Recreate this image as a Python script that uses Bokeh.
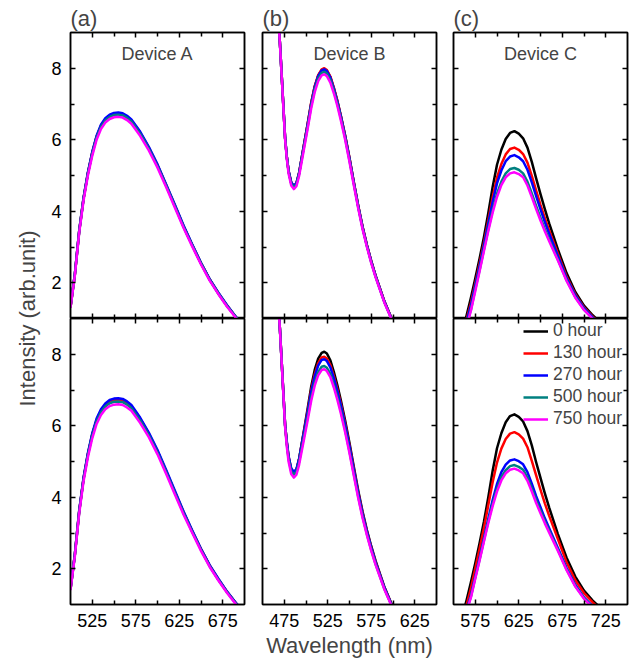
from bokeh.plotting import figure
from bokeh.layouts import row, column
from bokeh.models import Range1d, LinearAxis, FixedTicker, Label, Legend, LegendItem
from bokeh.embed import file_html
from bokeh.resources import INLINE

FONT = "Liberation Sans"

HOURS = ["0 hour", "130 hour", "270 hour", "500 hour", "750 hour"]
COLORS = ["#000000", "#ff0000", "#0000ff", "#008080", "#ff00ff"]

Y_TICKS = [2, 4, 6, 8]
Y_MINOR = [3, 5, 7]

# ---------------- Device A ----------------
WL_A = [500, 505, 510, 515, 520, 525, 530, 535, 540, 545, 550, 555, 560, 565,
        570, 580, 590, 600, 610, 620, 630, 640, 650, 660, 670, 680, 690, 700]
A_XTICKS = [525, 575, 625, 675]
A_XMINOR = [550, 600, 650]

A1_0 = [1.31, 2.22, 3.43, 4.35, 5.06, 5.63, 6.08, 6.38, 6.56, 6.66, 6.71, 6.72, 6.70, 6.63,
        6.53, 6.19, 5.77, 5.28, 4.72, 4.15, 3.57, 3.05, 2.54, 2.09, 1.70, 1.35, 1.04, 0.76]
A1_130 = [1.32, 2.24, 3.45, 4.37, 5.07, 5.64, 6.09, 6.39, 6.57, 6.67, 6.72, 6.73, 6.71, 6.64,
          6.54, 6.20, 5.78, 5.29, 4.73, 4.16, 3.58, 3.05, 2.55, 2.09, 1.71, 1.36, 1.04, 0.76]
A1_270 = [1.33, 2.25, 3.46, 4.38, 5.09, 5.66, 6.11, 6.42, 6.60, 6.70, 6.75, 6.76, 6.74, 6.67,
          6.57, 6.23, 5.80, 5.31, 4.75, 4.18, 3.60, 3.07, 2.56, 2.10, 1.72, 1.37, 1.05, 0.77]
A1_500 = [1.32, 2.23, 3.44, 4.35, 5.05, 5.61, 6.06, 6.36, 6.54, 6.64, 6.69, 6.70, 6.68, 6.61,
          6.51, 6.17, 5.75, 5.26, 4.71, 4.14, 3.56, 3.04, 2.54, 2.08, 1.70, 1.35, 1.04, 0.76]
A1_750 = [1.30, 2.20, 3.40, 4.30, 5.00, 5.55, 6.00, 6.30, 6.48, 6.58, 6.63, 6.64, 6.62, 6.55,
          6.45, 6.11, 5.70, 5.22, 4.67, 4.10, 3.53, 3.01, 2.51, 2.06, 1.68, 1.33, 1.02, 0.74]

A2_0 = [1.43, 2.39, 3.60, 4.52, 5.20, 5.75, 6.15, 6.41, 6.57, 6.67, 6.71, 6.72, 6.70, 6.63,
        6.53, 6.19, 5.77, 5.28, 4.72, 4.14, 3.57, 3.04, 2.54, 2.08, 1.70, 1.35, 1.04, 0.76]
A2_130 = [1.43, 2.40, 3.61, 4.53, 5.21, 5.76, 6.16, 6.42, 6.58, 6.68, 6.72, 6.73, 6.71, 6.64,
          6.54, 6.20, 5.78, 5.29, 4.73, 4.15, 3.58, 3.05, 2.55, 2.09, 1.70, 1.35, 1.04, 0.76]
A2_270 = [1.44, 2.41, 3.63, 4.55, 5.24, 5.79, 6.20, 6.46, 6.62, 6.72, 6.76, 6.77, 6.75, 6.68,
          6.58, 6.23, 5.81, 5.32, 4.76, 4.18, 3.60, 3.07, 2.56, 2.10, 1.72, 1.36, 1.05, 0.77]
A2_500 = [1.42, 2.38, 3.59, 4.50, 5.18, 5.72, 6.12, 6.38, 6.54, 6.63, 6.67, 6.68, 6.66, 6.59,
          6.49, 6.15, 5.74, 5.25, 4.70, 4.12, 3.55, 3.03, 2.53, 2.07, 1.69, 1.34, 1.03, 0.75]
A2_750 = [1.40, 2.35, 3.55, 4.45, 5.12, 5.65, 6.05, 6.30, 6.46, 6.55, 6.59, 6.60, 6.58, 6.51,
          6.42, 6.08, 5.68, 5.20, 4.65, 4.08, 3.51, 3.00, 2.50, 2.05, 1.67, 1.32, 1.01, 0.73]

# ---------------- Device B ----------------
WL_B = [460, 465, 468, 470, 472, 474, 476, 478, 480, 483, 486, 489, 492, 495, 498,
        502, 506, 510, 514, 518, 521, 524, 528, 532, 536, 540, 545, 550, 555, 560,
        565, 570, 575, 580, 590, 600, 610]
B_XTICKS = [475, 525, 575, 625]
B_XMINOR = [500, 550, 600]

B1_0 = [13.0, 10.82, 9.52, 8.72, 7.83, 6.93, 6.04, 5.51, 5.12, 4.80, 4.70, 4.78, 5.06, 5.48, 5.90,
        6.45, 7.02, 7.48, 7.79, 7.95, 7.98, 7.93, 7.75, 7.44, 7.08, 6.67, 6.11, 5.48, 4.80, 4.15,
        3.56, 3.05, 2.60, 2.19, 1.48, 0.90, 0.47]
B1_130 = [13.0, 10.82, 9.52, 8.72, 7.83, 6.93, 6.04, 5.51, 5.12, 4.80, 4.70, 4.78, 5.07, 5.49, 5.91,
          6.47, 7.04, 7.50, 7.81, 7.97, 8.00, 7.95, 7.77, 7.46, 7.10, 6.68, 6.12, 5.49, 4.81, 4.16,
          3.57, 3.06, 2.61, 2.20, 1.49, 0.91, 0.47]
B1_270 = [13.0, 10.82, 9.52, 8.72, 7.83, 6.94, 6.05, 5.52, 5.13, 4.81, 4.71, 4.79, 5.07, 5.48, 5.89,
          6.44, 7.01, 7.47, 7.78, 7.94, 7.97, 7.92, 7.74, 7.43, 7.07, 6.66, 6.10, 5.47, 4.80, 4.15,
          3.56, 3.05, 2.60, 2.19, 1.48, 0.90, 0.47]
B1_500 = [13.0, 10.81, 9.51, 8.71, 7.82, 6.92, 6.03, 5.49, 5.10, 4.77, 4.67, 4.75, 5.03, 5.44, 5.84,
          6.38, 6.95, 7.40, 7.71, 7.87, 7.90, 7.85, 7.67, 7.37, 7.01, 6.61, 6.05, 5.42, 4.76, 4.11,
          3.53, 3.02, 2.57, 2.17, 1.46, 0.89, 0.46]
B1_750 = [13.0, 10.8, 9.5, 8.7, 7.8, 6.9, 6.0, 5.45, 5.05, 4.72, 4.62, 4.70, 4.98, 5.38, 5.78,
          6.32, 6.88, 7.33, 7.64, 7.80, 7.83, 7.78, 7.60, 7.30, 6.95, 6.55, 6.00, 5.38, 4.72, 4.08,
          3.50, 3.00, 2.55, 2.15, 1.45, 0.88, 0.45]

B2_0 = [13.0, 10.82, 9.52, 8.72, 7.81, 6.91, 6.02, 5.51, 5.11, 4.77, 4.67, 4.76, 5.06, 5.49, 5.92,
        6.50, 7.10, 7.56, 7.88, 8.04, 8.07, 8.02, 7.83, 7.51, 7.14, 6.72, 6.15, 5.52, 4.85, 4.19,
        3.60, 3.08, 2.63, 2.22, 1.50, 0.92, 0.48]
B2_130 = [13.0, 10.82, 9.52, 8.72, 7.81, 6.91, 6.02, 5.53, 5.13, 4.79, 4.69, 4.77, 5.06, 5.47, 5.88,
          6.43, 7.00, 7.44, 7.75, 7.91, 7.93, 7.88, 7.70, 7.39, 7.03, 6.63, 6.07, 5.45, 4.79, 4.14,
          3.56, 3.05, 2.60, 2.19, 1.48, 0.91, 0.47]
B2_270 = [13.0, 10.82, 9.52, 8.72, 7.81, 6.91, 6.02, 5.55, 5.15, 4.81, 4.71, 4.79, 5.07, 5.47, 5.87,
          6.40, 6.95, 7.38, 7.68, 7.84, 7.86, 7.81, 7.63, 7.33, 6.98, 6.58, 6.03, 5.42, 4.76, 4.12,
          3.54, 3.04, 2.59, 2.18, 1.48, 0.90, 0.47]
B2_500 = [13.0, 10.81, 9.51, 8.71, 7.80, 6.89, 5.99, 5.47, 5.07, 4.73, 4.63, 4.71, 4.98, 5.37, 5.75,
          6.26, 6.79, 7.21, 7.50, 7.65, 7.67, 7.62, 7.45, 7.15, 6.81, 6.42, 5.88, 5.28, 4.65, 4.02,
          3.46, 2.97, 2.53, 2.13, 1.44, 0.88, 0.45]
B2_750 = [13.0, 10.8, 9.5, 8.7, 7.78, 6.87, 5.96, 5.40, 4.99, 4.65, 4.55, 4.63, 4.90, 5.28, 5.66,
          6.17, 6.70, 7.12, 7.41, 7.56, 7.58, 7.53, 7.36, 7.07, 6.73, 6.35, 5.82, 5.23, 4.60, 3.98,
          3.42, 2.94, 2.50, 2.11, 1.43, 0.87, 0.44]

# ---------------- Device C ----------------
WL_C = [560, 565, 570, 575, 580, 585, 590, 595, 600, 605, 610, 615, 620, 625,
        630, 635, 640, 645, 650, 655, 660, 670, 680, 690, 700, 710, 720]
C_XTICKS = [575, 625, 675, 725]
C_XMINOR = [600, 650, 700]

C1_0 = [0.62, 1.08, 1.58, 2.12, 2.68, 3.28, 3.95, 4.68, 5.30, 5.72, 6.02, 6.19, 6.24, 6.17,
        6.04, 5.78, 5.38, 4.92, 4.48, 4.06, 3.66, 2.93, 2.27, 1.74, 1.36, 1.09, 0.86]
C1_130 = [0.55, 0.97, 1.43, 1.98, 2.54, 3.12, 3.75, 4.39, 4.94, 5.32, 5.59, 5.74, 5.78, 5.72,
          5.60, 5.36, 4.99, 4.58, 4.18, 3.81, 3.46, 2.81, 2.17, 1.68, 1.31, 1.05, 0.83]
C1_270 = [0.52, 0.92, 1.36, 1.92, 2.47, 3.05, 3.66, 4.26, 4.78, 5.14, 5.40, 5.53, 5.57, 5.51,
          5.40, 5.16, 4.81, 4.42, 4.05, 3.70, 3.37, 2.75, 2.13, 1.65, 1.29, 1.03, 0.81]
C1_500 = [0.47, 0.83, 1.24, 1.82, 2.36, 2.93, 3.50, 4.03, 4.49, 4.83, 5.06, 5.18, 5.21, 5.16,
          5.06, 4.83, 4.50, 4.15, 3.82, 3.50, 3.21, 2.65, 2.07, 1.60, 1.25, 1.00, 0.79]
C1_750 = [0.42, 0.76, 1.22, 1.76, 2.32, 2.89, 3.45, 3.96, 4.40, 4.73, 4.95, 5.06, 5.09, 5.04,
          4.95, 4.72, 4.40, 4.06, 3.74, 3.44, 3.16, 2.62, 2.05, 1.58, 1.24, 0.99, 0.78]

C2_0 = [0.65, 1.12, 1.62, 2.15, 2.72, 3.32, 4.00, 4.74, 5.37, 5.79, 6.10, 6.27, 6.32, 6.25,
        6.12, 5.85, 5.45, 4.98, 4.54, 4.11, 3.71, 2.97, 2.31, 1.78, 1.39, 1.11, 0.88]
C2_130 = [0.56, 0.98, 1.45, 2.00, 2.56, 3.14, 3.78, 4.42, 4.97, 5.36, 5.63, 5.78, 5.82, 5.76,
          5.64, 5.40, 5.02, 4.61, 4.21, 3.83, 3.48, 2.83, 2.18, 1.68, 1.32, 1.06, 0.84]
C2_270 = [0.52, 0.86, 1.26, 1.79, 2.31, 2.86, 3.40, 3.92, 4.37, 4.70, 4.91, 5.03, 5.06, 5.01,
          4.92, 4.70, 4.38, 4.03, 3.72, 3.41, 3.13, 2.58, 2.02, 1.55, 1.20, 0.95, 0.76]
C2_500 = [0.50, 0.83, 1.22, 1.75, 2.26, 2.80, 3.33, 3.82, 4.24, 4.56, 4.76, 4.87, 4.90, 4.85,
          4.77, 4.55, 4.25, 3.92, 3.62, 3.33, 3.06, 2.53, 1.98, 1.52, 1.18, 0.93, 0.74]
C2_750 = [0.49, 0.81, 1.19, 1.72, 2.23, 2.76, 3.28, 3.75, 4.16, 4.47, 4.67, 4.77, 4.80, 4.75,
          4.67, 4.46, 4.16, 3.84, 3.55, 3.27, 3.01, 2.50, 1.96, 1.50, 1.16, 0.92, 0.73]


def style_axis(ax, show_labels, standoff):
    ax.major_tick_in = 5
    ax.major_tick_out = 0
    ax.minor_tick_in = 4
    ax.minor_tick_out = 0
    ax.axis_line_width = 1.5
    ax.axis_line_color = "black"
    ax.major_tick_line_width = 1.5
    ax.minor_tick_line_width = 1.5
    ax.major_tick_line_color = "black"
    ax.minor_tick_line_color = "black"
    ax.major_label_text_font = FONT
    ax.major_label_text_color = "black"
    if show_labels:
        ax.major_label_text_font_size = "18px"
        ax.major_label_standoff = standoff
    else:
        ax.major_label_text_font_size = "0px"
        ax.major_label_standoff = 0
        ax.major_label_overrides = {t: "" for t in ax.ticker.ticks}


def panel(wl, series, xticks, xminor, tag, device, top, left_labels,
          b_left, b_right, xlabel=None, legend=False):
    x0, x1 = xticks[0] - 25, xticks[-1] + 25
    p = figure(x_range=Range1d(x0, x1), y_range=Range1d(1, 9),
               frame_width=174, frame_height=286,
               output_backend="svg", toolbar_location=None,
               x_axis_location=None, y_axis_location=None,
               min_border_left=b_left, min_border_right=b_right,
               min_border_top=32 if top else 0,
               min_border_bottom=0 if top else 58,
               title=tag)
    p.xgrid.visible = False
    p.ygrid.visible = False
    p.outline_line_color = "black"
    p.outline_line_width = 1.5
    p.background_fill_color = "white"
    p.border_fill_color = "white"
    if tag:
        p.title.text_font = FONT
        p.title.text_font_size = "22px"
        p.title.text_font_style = "normal"
        p.title.align = "left"
        p.title.offset = 0
        p.title.standoff = 4
    for loc, ticks, minor, lab, so in [("below", xticks, xminor, not top, 9),
                                       ("above", xticks, xminor, False, 0),
                                       ("left", Y_TICKS, Y_MINOR, left_labels, 9),
                                       ("right", Y_TICKS, Y_MINOR, False, 0)]:
        ax = LinearAxis(ticker=FixedTicker(ticks=ticks, minor_ticks=minor))
        style_axis(ax, lab, so)
        if loc == "below" and xlabel:
            ax.axis_label = xlabel
            ax.axis_label_text_font = FONT
            ax.axis_label_text_font_size = "22px"
            ax.axis_label_text_font_style = "normal"
            ax.axis_label_standoff = 3
        p.add_layout(ax, loc)
    renderers = []
    for color, ys in zip(COLORS, series):
        r = p.line(wl, ys, line_color=color, line_width=2.5, line_join="round")
        renderers.append(r)
    if device:
        p.add_layout(Label(x=(x0 + x1) / 2, y=8.4, text=device, text_font=FONT,
                           text_font_size="18px", text_align="center",
                           text_baseline="middle"))
    if legend:
        lg = Legend(items=[LegendItem(label=h, renderers=[r]) for h, r in zip(HOURS, renderers)],
                    location=(70, 175), border_line_color=None, background_fill_alpha=0,
                    padding=0, margin=0, spacing=1, glyph_width=25, glyph_height=20,
                    label_height=20, label_standoff=5, label_text_font=FONT,
                    label_text_font_size="17.5px")
        p.add_layout(lg)
    return p


A1 = panel(WL_A, [A1_0, A1_130, A1_270, A1_500, A1_750], A_XTICKS, A_XMINOR, "(a)", "Device A",
           True, True, 22, 9)
B1 = panel(WL_B, [B1_0, B1_130, B1_270, B1_500, B1_750], B_XTICKS, B_XMINOR, "(b)", "Device B",
           True, False, 9, 8)
C1 = panel(WL_C, [C1_0, C1_130, C1_270, C1_500, C1_750], C_XTICKS, C_XMINOR, "(c)", "Device C",
           True, False, 9, 3)
A2 = panel(WL_A, [A2_0, A2_130, A2_270, A2_500, A2_750], A_XTICKS, A_XMINOR, None, None,
           False, True, 22, 9)
B2 = panel(WL_B, [B2_0, B2_130, B2_270, B2_500, B2_750], B_XTICKS, B_XMINOR, None, None,
           False, False, 9, 8, xlabel="Wavelength (nm)")
C2 = panel(WL_C, [C2_0, C2_130, C2_270, C2_500, C2_750], C_XTICKS, C_XMINOR, None, None,
           False, False, 9, 3, legend=True)

yl = figure(width=48, height=660, x_range=Range1d(0, 48), y_range=Range1d(0, 660),
            output_backend="svg", toolbar_location=None,
            x_axis_location=None, y_axis_location=None, min_border=0)
yl.outline_line_color = None
yl.xgrid.visible = False
yl.ygrid.visible = False
yl.add_layout(Label(x=27, y=342, text="Intensity (arb.unit)", angle=90, angle_units="deg",
                    text_align="center", text_baseline="middle", text_font=FONT,
                    text_font_size="22px"))

layout = row(yl, column(row(A1, B1, C1), row(A2, B2, C2)))

with open("out.html", "w") as f:
    f.write(file_html(layout, INLINE))
